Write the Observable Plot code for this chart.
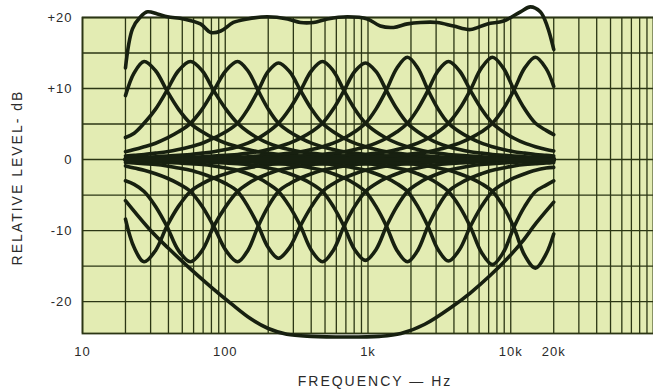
<!DOCTYPE html>
<html><head><meta charset="utf-8">
<script src="https://cdn.jsdelivr.net/npm/d3@7"></script>
<script src="https://cdn.jsdelivr.net/npm/@observablehq/plot@0.6"></script>
<style>
html,body{margin:0;padding:0;background:#fff;}
#chart{width:653px;height:389px;}
#chart text{letter-spacing:1px;}
#chart g[aria-label="text"] text{letter-spacing:2px;}
</style></head><body><div id="chart"></div>
<script>
// Frequency points (Hz) where every band curve was read
const freqs = [20, 23, 27, 32.5, 39, 47, 57, 69, 83, 101, 122, 144, 170, 200, 236, 282, 337, 402, 480, 571, 679, 807, 960, 1137, 1347, 1596, 1890, 2230, 2630, 3100, 3660, 4370, 5220, 6240, 7450, 8860, 10540, 12530, 14900, 17700, 20000];

// Single-band boost curves (dB), one row per band
const boostCurves = [
  [9.0,12.2,13.8,12.5,9.7,7.1,5.1,3.9,3.0,2.3,1.8,1.4,1.1,0.9,0.7,0.6,0.5,0.4,0.3,0.3,0.2,0.2,0.2,0.1,0.1,0.1,0.1,0.1,0.1,0.1,0.1,0.1,0.1,0.1,0.1,0.1,0.1,0.1,0.1,0.1,0.1],
  [3.1,3.7,5.1,7.1,9.7,12.5,13.8,12.5,9.7,7.1,5.1,3.9,3.0,2.3,1.8,1.4,1.1,0.9,0.7,0.6,0.5,0.4,0.3,0.3,0.2,0.2,0.2,0.1,0.1,0.1,0.1,0.1,0.1,0.1,0.1,0.1,0.1,0.1,0.1,0.1,0.1],
  [1.1,1.4,1.8,2.3,3.0,3.9,5.1,7.1,9.7,12.5,13.8,12.5,9.7,7.1,5.1,3.9,3.0,2.3,1.8,1.4,1.1,0.9,0.7,0.6,0.5,0.4,0.3,0.3,0.2,0.2,0.2,0.1,0.1,0.1,0.1,0.1,0.1,0.1,0.1,0.1,0.1],
  [0.5,0.6,0.7,0.9,1.1,1.4,1.8,2.3,3.0,3.9,5.1,7.1,9.7,12.4,13.6,12.4,9.7,7.1,5.1,3.9,3.0,2.3,1.8,1.4,1.1,0.9,0.7,0.6,0.5,0.4,0.3,0.3,0.2,0.2,0.2,0.1,0.1,0.1,0.1,0.1,0.1],
  [0.2,0.3,0.3,0.4,0.5,0.6,0.7,0.9,1.1,1.4,1.8,2.3,3.0,3.9,5.1,7.1,9.7,12.5,13.8,12.5,9.7,7.1,5.1,3.9,3.0,2.3,1.8,1.4,1.1,0.9,0.7,0.6,0.5,0.4,0.3,0.3,0.2,0.2,0.2,0.1,0.1],
  [0.1,0.1,0.2,0.2,0.2,0.3,0.3,0.4,0.5,0.6,0.7,0.9,1.1,1.4,1.8,2.3,3.0,3.9,5.1,7.1,9.7,12.4,13.6,12.4,9.7,7.1,5.1,3.9,3.0,2.3,1.8,1.4,1.1,0.9,0.7,0.6,0.5,0.4,0.3,0.3,0.2],
  [0.1,0.1,0.1,0.1,0.1,0.1,0.2,0.2,0.2,0.3,0.3,0.4,0.5,0.6,0.7,0.9,1.1,1.4,1.8,2.3,3.0,3.9,5.1,7.1,9.8,12.9,14.4,12.9,9.8,7.1,5.1,3.9,3.0,2.3,1.8,1.4,1.1,0.9,0.7,0.6,0.5],
  [0.1,0.1,0.1,0.1,0.1,0.1,0.1,0.1,0.1,0.1,0.2,0.2,0.2,0.3,0.3,0.4,0.5,0.6,0.7,0.9,1.1,1.4,1.8,2.3,3.0,3.9,5.1,7.1,9.7,12.5,13.8,12.5,9.7,7.1,5.1,3.9,3.0,2.3,1.8,1.4,1.2],
  [0.1,0.1,0.1,0.1,0.1,0.1,0.1,0.1,0.1,0.1,0.1,0.1,0.1,0.1,0.2,0.2,0.2,0.3,0.3,0.4,0.5,0.6,0.7,0.9,1.1,1.4,1.8,2.3,3.0,3.9,5.1,7.1,9.8,12.9,14.4,12.9,9.8,7.1,5.1,4.1,3.5],
  [0.1,0.1,0.1,0.1,0.1,0.1,0.1,0.1,0.1,0.1,0.1,0.1,0.1,0.1,0.1,0.1,0.1,0.1,0.2,0.2,0.2,0.3,0.3,0.4,0.5,0.6,0.7,0.9,1.1,1.4,1.8,2.3,3.0,3.9,5.1,7.1,9.8,12.9,14.4,12.8,10.3]
];

// Single-band cut curves (dB), one row per band
const cutCurves = [
  [-8.4,-12.4,-14.4,-12.8,-9.4,-6.6,-4.5,-3.4,-2.6,-2.0,-1.5,-1.2,-0.9,-0.7,-0.6,-0.5,-0.4,-0.3,-0.3,-0.2,-0.2,-0.2,-0.1,-0.1,-0.1,-0.1,-0.1,-0.1,-0.1,-0.1,-0.1,-0.1,-0.1,-0.1,-0.1,-0.1,-0.1,-0.1,-0.1,-0.1,-0.1],
  [-3.0,-3.5,-4.5,-6.6,-9.4,-12.8,-14.4,-12.8,-9.4,-6.6,-4.5,-3.4,-2.6,-2.0,-1.5,-1.2,-0.9,-0.7,-0.6,-0.5,-0.4,-0.3,-0.3,-0.2,-0.2,-0.2,-0.1,-0.1,-0.1,-0.1,-0.1,-0.1,-0.1,-0.1,-0.1,-0.1,-0.1,-0.1,-0.1,-0.1,-0.1],
  [-0.9,-1.2,-1.5,-2.0,-2.6,-3.4,-4.5,-6.6,-9.4,-12.8,-14.4,-12.8,-9.4,-6.6,-4.5,-3.4,-2.6,-2.0,-1.5,-1.2,-0.9,-0.7,-0.6,-0.5,-0.4,-0.3,-0.3,-0.2,-0.2,-0.2,-0.1,-0.1,-0.1,-0.1,-0.1,-0.1,-0.1,-0.1,-0.1,-0.1,-0.1],
  [-0.4,-0.5,-0.6,-0.7,-0.9,-1.2,-1.5,-2.0,-2.6,-3.4,-4.5,-6.6,-9.3,-12.4,-13.9,-12.4,-9.3,-6.6,-4.5,-3.4,-2.6,-2.0,-1.5,-1.2,-0.9,-0.7,-0.6,-0.5,-0.4,-0.3,-0.3,-0.2,-0.2,-0.2,-0.1,-0.1,-0.1,-0.1,-0.1,-0.1,-0.1],
  [-0.2,-0.2,-0.3,-0.3,-0.4,-0.5,-0.6,-0.7,-0.9,-1.2,-1.5,-2.0,-2.6,-3.4,-4.5,-6.6,-9.4,-12.8,-14.4,-12.8,-9.4,-6.6,-4.5,-3.4,-2.6,-2.0,-1.5,-1.2,-0.9,-0.7,-0.6,-0.5,-0.4,-0.3,-0.3,-0.2,-0.2,-0.2,-0.1,-0.1,-0.1],
  [-0.1,-0.1,-0.1,-0.2,-0.2,-0.2,-0.3,-0.3,-0.4,-0.5,-0.6,-0.7,-0.9,-1.2,-1.5,-2.0,-2.6,-3.4,-4.5,-6.6,-9.4,-12.7,-14.2,-12.7,-9.4,-6.6,-4.5,-3.4,-2.6,-2.0,-1.5,-1.2,-0.9,-0.7,-0.6,-0.5,-0.4,-0.3,-0.3,-0.2,-0.2],
  [-0.1,-0.1,-0.1,-0.1,-0.1,-0.1,-0.1,-0.2,-0.2,-0.2,-0.3,-0.3,-0.4,-0.5,-0.6,-0.7,-0.9,-1.2,-1.5,-2.0,-2.6,-3.4,-4.5,-6.6,-9.4,-12.8,-14.4,-12.8,-9.4,-6.6,-4.5,-3.4,-2.6,-2.0,-1.5,-1.2,-0.9,-0.7,-0.6,-0.5,-0.4],
  [-0.1,-0.1,-0.1,-0.1,-0.1,-0.1,-0.1,-0.1,-0.1,-0.1,-0.1,-0.2,-0.2,-0.2,-0.3,-0.3,-0.4,-0.5,-0.6,-0.7,-0.9,-1.2,-1.5,-2.0,-2.6,-3.4,-4.5,-6.6,-9.4,-12.7,-14.3,-12.7,-9.4,-6.6,-4.5,-3.4,-2.6,-2.0,-1.5,-1.2,-1.1],
  [-0.1,-0.1,-0.1,-0.1,-0.1,-0.1,-0.1,-0.1,-0.1,-0.1,-0.1,-0.1,-0.1,-0.1,-0.1,-0.2,-0.2,-0.2,-0.3,-0.3,-0.4,-0.5,-0.6,-0.7,-0.9,-1.2,-1.5,-2.0,-2.6,-3.4,-4.5,-6.6,-9.5,-13.1,-14.8,-13.1,-9.5,-6.6,-4.5,-3.6,-3.0],
  [-0.1,-0.1,-0.1,-0.1,-0.1,-0.1,-0.1,-0.1,-0.1,-0.1,-0.1,-0.1,-0.1,-0.1,-0.1,-0.1,-0.1,-0.1,-0.1,-0.2,-0.2,-0.2,-0.3,-0.3,-0.4,-0.5,-0.6,-0.7,-0.9,-1.2,-1.5,-2.0,-2.6,-3.4,-4.5,-6.6,-9.6,-13.5,-15.3,-13.3,-10.5]
];

// All bands at maximum boost
const allBoostFreq = [20, 22.4, 25.5, 28.5, 33.5, 39.4, 51, 67, 79, 93, 114, 143, 197, 273, 336, 414, 520, 718, 990, 1220, 1510, 1890, 2330, 3060, 3970, 5230, 6860, 8900, 11700, 13700, 16100, 18000, 20000];
const allBoostDb   = [12.9, 18.4, 20.1, 20.8, 20.5, 20.1, 19.8, 19.1, 17.9, 18.1, 19.3, 19.8, 20.1, 19.8, 19.3, 19.3, 19.8, 20.1, 19.8, 18.8, 18.6, 19.1, 19.3, 19.3, 18.8, 18.3, 19.1, 19.5, 20.8, 21.5, 20.8, 18.8, 15.5];

// All bands at maximum cut
const allCutFreq = [20, 30, 40, 57, 80, 110, 150, 200, 270, 400, 700, 1200, 1700, 2500, 3900, 5200, 7200, 9500, 12000, 15000, 20000];
const allCutDb   = [-5.8, -10.0, -12.5, -15.4, -18.0, -20.3, -22.4, -23.8, -24.6, -24.9, -25.0, -24.9, -24.5, -23.2, -20.7, -18.8, -16.3, -13.9, -11.6, -9.0, -6.0];

// Flat response
const flatFreq = [20, 20000];
const flatDb = [0, 0];

const xTickValues = [10, 100, 1000, 10000, 20000];
const xTickLabels = ["10", "100", "1k", "10k", "20k"];
const yTickValues = [20, 10, 0, -10, -20];
const yTickLabels = ["+20", "+10", "0", "-10", "-20"];

const rows = [];
boostCurves.forEach((vals, k) => vals.forEach((v, i) => rows.push({id: "boost" + k, f: freqs[i], db: v})));
cutCurves.forEach((vals, k) => vals.forEach((v, i) => rows.push({id: "cut" + k, f: freqs[i], db: v})));
allBoostFreq.forEach((f, i) => rows.push({id: "allBoost", f, db: allBoostDb[i]}));
allCutFreq.forEach((f, i) => rows.push({id: "allCut", f, db: allCutDb[i]}));
flatFreq.forEach((f, i) => rows.push({id: "flat", f, db: flatDb[i]}));

// grid lines: 1..9 x each decade
const xGrid = [];
for (let e = 1; e <= 4; e++) for (let m = 1; m <= 9; m++) xGrid.push(m * 10 ** e);
xGrid.push(100000);
const yGrid = [-20, -15, -10, -5, 0, 5, 10, 15, 20];

const bg = "#e3ecb3";
const gridColor = "#2b3614";
const curveColor = "#172010";

const chart = Plot.plot({
  width: 653, height: 389,
  marginLeft: 82, marginRight: 0, marginTop: 17, marginBottom: 56,
  style: {fontFamily: "'Liberation Sans', Arial, sans-serif", fontSize: "13px", color: "#2a2a2a", background: "#fff"},
  x: {type: "log", domain: [10, 100000], label: null},
  y: {domain: [-24.5, 20], label: null},
  marks: [
    Plot.frame({fill: bg, stroke: null}),
    Plot.ruleX(xGrid, {stroke: gridColor, strokeWidth: 1.3}),
    Plot.ruleY(yGrid, {stroke: gridColor, strokeWidth: 1.3}),
    Plot.frame({stroke: gridColor, strokeWidth: 1.8}),
    Plot.line(rows, {x: "f", y: "db", z: "id", stroke: curveColor, strokeWidth: 3.6, curve: "catmull-rom", strokeLinecap: "round"}),
    Plot.axisX({ticks: xTickValues, tickFormat: d => xTickLabels[xTickValues.indexOf(d)], tickSize: 0, tickPadding: 13, fontSize: 13, label: null}),
    Plot.axisY({ticks: yTickValues, tickFormat: d => yTickLabels[yTickValues.indexOf(d)], tickSize: 0, tickPadding: 10, fontSize: 13, label: null}),
    Plot.text(["FREQUENCY — Hz"], {text: d => d, frameAnchor: "bottom", dx: 7, dy: 52, fontSize: 14, fill: "#2a2a2a", textAnchor: "middle"}),
    Plot.text(["RELATIVE LEVEL- dB"], {text: d => d, frameAnchor: "left", dx: -65, dy: 2, rotate: -90, fontSize: 14, fill: "#2a2a2a", textAnchor: "middle"})
  ]
});
document.getElementById("chart").appendChild(chart);
</script>
</body></html>
